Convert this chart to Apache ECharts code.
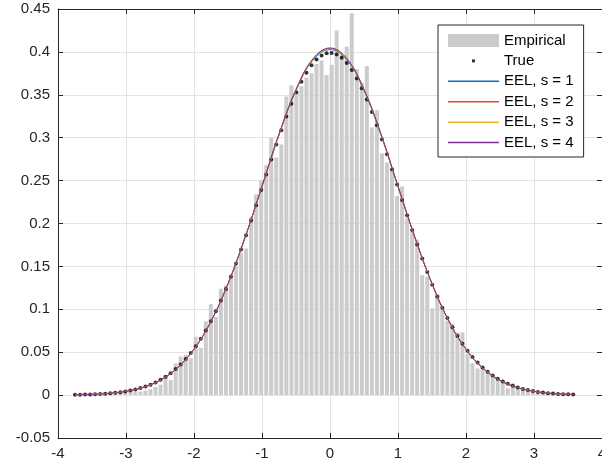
<!DOCTYPE html>
<html>
<head>
<meta charset="utf-8">
<script src="https://cdn.jsdelivr.net/npm/echarts@6/dist/echarts.min.js"></script>
<style>
html, body { margin: 0; padding: 0; background: #fff; }
#chart { width: 602px; height: 467px; }
</style>
</head>
<body>
<div id="chart"></div>
<script>
// histogram: 100 bins, first centre and width
let binCenter0 = -3.75;
let binWidth = 0.074;

let empirical = [
    0.0014, 0, 0.0014, 0.0014, 0.0014, 0.0014, 0.0027, 0.0014, 0.0027, 0.0027,
    0.0041, 0.0054, 0.0041, 0.0041, 0.0054, 0.0068, 0.0095, 0.0122, 0.0216, 0.0176,
    0.037, 0.045, 0.047, 0.043, 0.068, 0.055, 0.086, 0.106, 0.091,
    0.124, 0.128, 0.138, 0.150,
    0.166, 0.171, 0.208, 0.234, 0.250, 0.268, 0.300, 0.277, 0.292, 0.348, 0.361, 0.352,
    0.360, 0.370, 0.375, 0.386, 0.390, 0.373, 0.385, 0.425, 0.397, 0.406, 0.445, 0.380, 0.364,
    0.3835, 0.312, 0.332, 0.282, 0.271, 0.263, 0.232, 0.243, 0.206, 0.190, 0.181, 0.140, 0.138,
    0.101, 0.117, 0.100, 0.087, 0.083, 0.073, 0.073, 0.048, 0.037, 0.031, 0.033, 0.027, 0.023, 0.0195, 0.0175,
    0.008, 0.0136, 0.009, 0.0085, 0.006, 0.005, 0.004, 0.004, 0.003, 0.0014, 0.0014, 0.0014, 0.0014, 0.0014
];

// true density at the bin centres
let trueDensity = [
    0.0004, 0.0005, 0.0006, 0.0008, 0.0010, 0.0013, 0.0017, 0.0022, 0.0027, 0.0034,
    0.0043, 0.0054, 0.0066, 0.0082, 0.0100, 0.0122, 0.0148, 0.0179, 0.0214, 0.0256,
    0.0303, 0.0358, 0.0420, 0.0490, 0.0569, 0.0656, 0.0753, 0.0860, 0.0976, 0.1102,
    0.1238, 0.1382, 0.1535, 0.1696, 0.1863, 0.2036, 0.2212, 0.2391, 0.2570, 0.2747,
    0.2920, 0.3088, 0.3247, 0.3395, 0.3531, 0.3653, 0.3758, 0.3845, 0.3912, 0.3959,
    0.3984, 0.3988, 0.3970, 0.3931, 0.3871, 0.3790, 0.3691, 0.3576, 0.3444, 0.3300,
    0.3144, 0.2980, 0.2808, 0.2632, 0.2454, 0.2275, 0.2097, 0.1923, 0.1754, 0.1591,
    0.1435, 0.1287, 0.1149, 0.1019, 0.0900, 0.0790, 0.0689, 0.0598, 0.0517, 0.0443,
    0.0379, 0.0322, 0.0272, 0.0228, 0.0191, 0.0158, 0.0131, 0.0108, 0.0088, 0.0072,
    0.0058, 0.0047, 0.0037, 0.0030, 0.0023, 0.0018, 0.0014, 0.0011, 0.0009, 0.0007
];

let eelX = [-3.75, -3.5, -3.25, -3, -2.75, -2.5, -2.25, -2, -1.75, -1.5, -1.25, -1, -0.75, -0.5, -0.25,
    0, 0.25, 0.5, 0.75, 1, 1.25, 1.5, 1.75, 2, 2.25, 2.5, 2.75, 3, 3.25, 3.5, 3.576];
let eel1 = [0.0004, 0.0009, 0.0020, 0.0044, 0.0090, 0.0172, 0.0313, 0.0535, 0.0860, 0.1298, 0.1835, 0.2428, 0.3030, 0.3548, 0.3905,
    0.4027, 0.3905, 0.3548, 0.3030, 0.2428, 0.1835, 0.1298, 0.0860, 0.0535, 0.0313, 0.0172, 0.0090, 0.0044, 0.0020, 0.0009, 0.0007];
let eel2 = [0.0004, 0.0009, 0.0020, 0.0044, 0.0090, 0.0172, 0.0313, 0.0535, 0.0860, 0.1298, 0.1835, 0.2432, 0.3037, 0.3558, 0.3916,
    0.4040, 0.3916, 0.3558, 0.3037, 0.2432, 0.1835, 0.1298, 0.0860, 0.0535, 0.0313, 0.0172, 0.0090, 0.0044, 0.0020, 0.0009, 0.0007];
let eel3 = [0.0004, 0.0009, 0.0020, 0.0044, 0.0090, 0.0172, 0.0313, 0.0535, 0.0860, 0.1298, 0.1835, 0.2432, 0.3035, 0.3556, 0.3913,
    0.4036, 0.3913, 0.3556, 0.3035, 0.2432, 0.1835, 0.1298, 0.0860, 0.0535, 0.0313, 0.0172, 0.0090, 0.0044, 0.0020, 0.0009, 0.0007];
let eel4 = [0.0004, 0.0009, 0.0020, 0.0044, 0.0090, 0.0172, 0.0313, 0.0535, 0.0860, 0.1298, 0.1835, 0.2435, 0.3042, 0.3562, 0.3920,
    0.4046, 0.3920, 0.3562, 0.3042, 0.2435, 0.1835, 0.1298, 0.0860, 0.0535, 0.0313, 0.0172, 0.0090, 0.0044, 0.0020, 0.0009, 0.0007];

let xTicks = {min: -4, max: 4, interval: 1};
let yTicks = {min: -0.05, max: 0.45, interval: 0.05};

let font = 'Liberation Sans, Arial, Helvetica, sans-serif';
let axisColor = '#262626';
let gridColor = '#e3e3e3';
// legend glyphs (box 51x13)
let dotIcon = 'path://M0,0M51,13M24,5h3v3h-3z';
let lineIcon = 'path://M0,0M51,13M0,5.8h51v1.5h-51z';

let binData = empirical.map((v, i) => [binCenter0 + i * binWidth, v]);
let trueData = trueDensity.map((v, i) => [binCenter0 + i * binWidth, v]);
let pair = (ys) => eelX.map((x, i) => [x, ys[i]]);

function eelLine(name, ys, color) {
    return {
        name: name,
        type: 'line',
        data: pair(ys),
        smooth: 0.4,
        symbol: 'none',
        showSymbol: false,
        lineStyle: {color: color, width: 1},
        itemStyle: {color: color},
        z: 4
    };
}

function axis(pos, ticks, labels, split) {
    return {
        type: 'value',
        position: pos,
        min: ticks.min,
        max: ticks.max,
        interval: ticks.interval,
        axisLine: {show: true, onZero: false, lineStyle: {color: axisColor, width: 1}},
        axisTick: {show: true, inside: true, length: 5, lineStyle: {color: axisColor}},
        axisLabel: {show: labels, color: axisColor, fontSize: 15, fontFamily: font, margin: 8},
        splitLine: {show: split, lineStyle: {color: gridColor, width: 1}}
    };
}

let chart = echarts.init(document.getElementById('chart'));
let option = {
    animation: false,
    backgroundColor: '#fff',
    textStyle: {fontFamily: font},
    grid: {left: 58, right: 0, top: 9, bottom: 29, containLabel: false, outerBoundsMode: 'none'},
    legend: {
        orient: 'vertical',
        left: 438,
        top: 25,
        padding: [8, 10, 7, 10],
        itemWidth: 51,
        itemHeight: 13,
        itemGap: 5.4,
        backgroundColor: '#fff',
        borderColor: axisColor,
        borderWidth: 1,
        borderRadius: 0,
        selectedMode: false,
        textStyle: {color: '#000', fontSize: 15, fontFamily: font},
        data: [
            {name: 'Empirical', icon: 'rect'},
            {name: 'True', icon: dotIcon},
            {name: 'EEL, s = 1', icon: lineIcon},
            {name: 'EEL, s = 2', icon: lineIcon},
            {name: 'EEL, s = 3', icon: lineIcon},
            {name: 'EEL, s = 4', icon: lineIcon}
        ]
    },
    xAxis: [axis('bottom', xTicks, true, true), axis('top', xTicks, false, false)],
    yAxis: [axis('left', yTicks, true, true), axis('right', yTicks, false, false)],
    series: [
        {
            name: 'Empirical',
            type: 'bar',
            data: binData,
            barWidth: 4,
            itemStyle: {color: '#cccccc'},
            z: 2
        },
        {
            name: 'True',
            type: 'scatter',
            data: trueData,
            symbol: 'circle',
            symbolSize: 4,
            itemStyle: {color: '#000'},
            z: 3
        },
        eelLine('EEL, s = 1', eel1, '#0072BD'),
        eelLine('EEL, s = 2', eel2, '#D95319'),
        eelLine('EEL, s = 3', eel3, '#EDB120'),
        eelLine('EEL, s = 4', eel4, '#7E2F8E')
    ]
};
chart.setOption(option);
</script>
</body>
</html>
